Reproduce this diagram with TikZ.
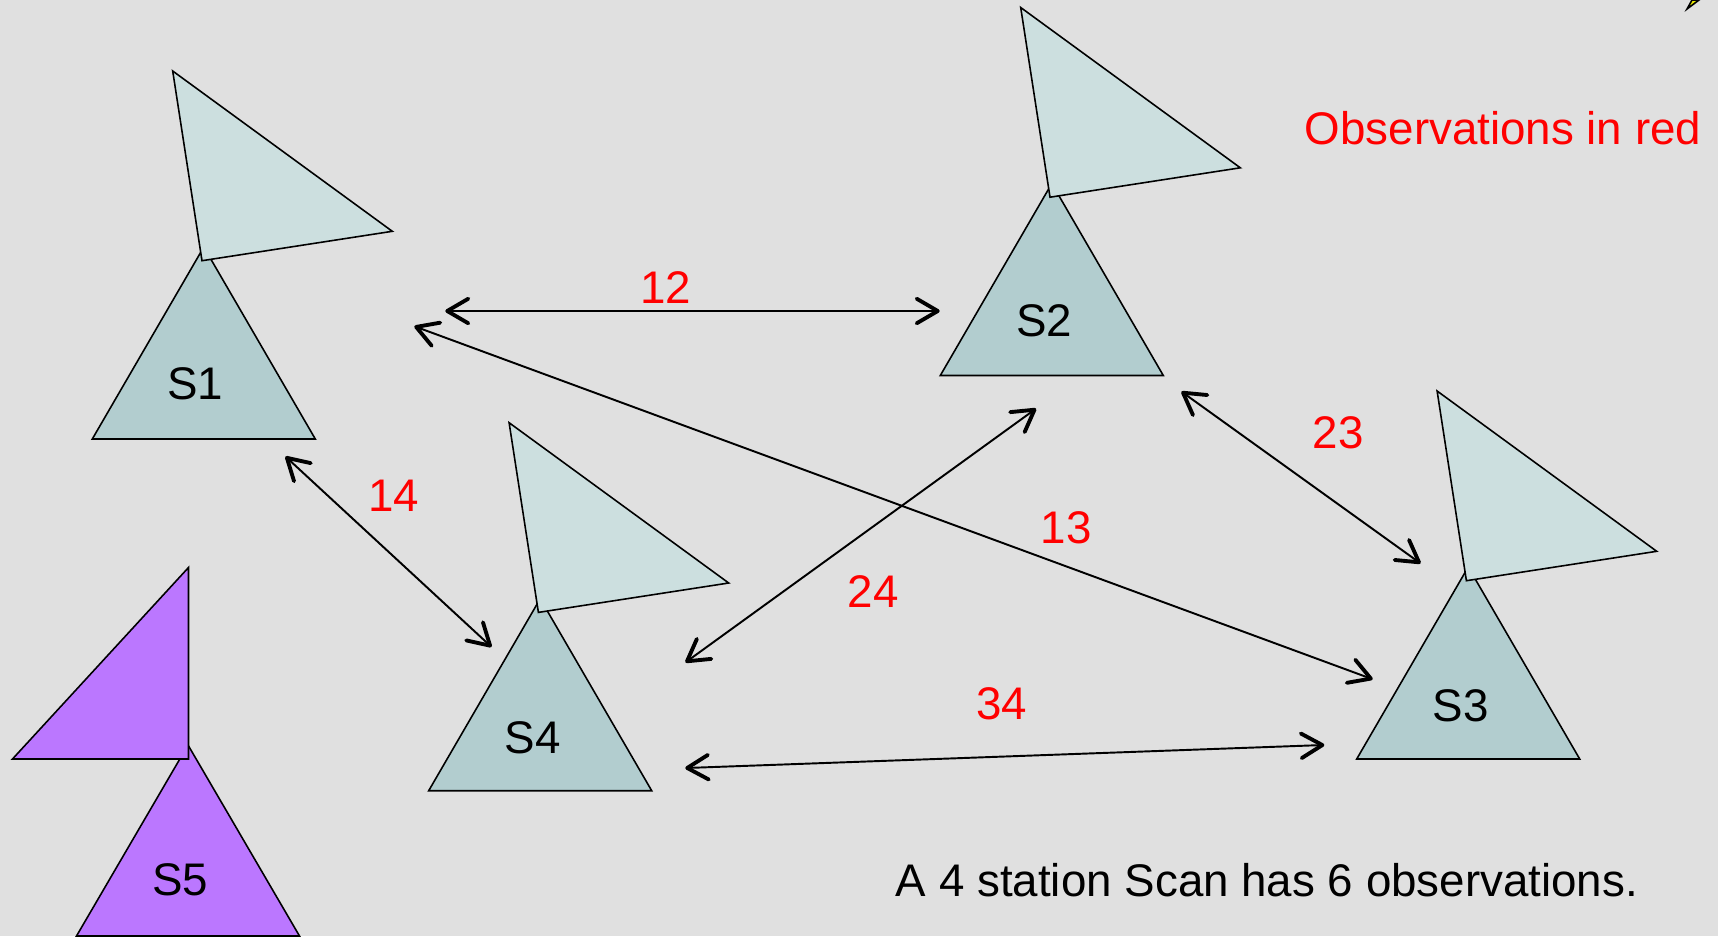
\documentclass[tikz,border=0pt]{standalone}
\usepackage{fontspec}
\setmainfont{Liberation Sans}
\usetikzlibrary{arrows.meta}

\begin{document}
\begin{tikzpicture}[
    x=0.01cm, y=-0.01cm,
    base/.style = {draw, line width=.45pt, line join=miter, fill=stationbase},
    dish/.style = {draw, line width=.45pt, line join=miter, fill=stationdish},
    stationname/.style = {font=\fontsize{13}{15}\selectfont},
    observation/.style = {font=\fontsize{13}{15}\selectfont, text=red},
    baseline/.style = {{Straight Barb[length=6pt,width=7pt,line width=1.1pt,round]}-{Straight Barb[length=6pt,width=7pt,line width=1.1pt,round]}, line width=.55pt, shorten <=-.2pt, shorten >=-.2pt},
    station/.pic = {
      \draw[base] (0,0) -- (111.5,192) -- (-111.5,192) -- cycle;
      \draw[dish] (-31.1,-176) -- (188.5,-15.7) -- (-1.8,13.7) -- cycle;
    }
    ]
    \definecolor{backdrop}{HTML}{E0E0E0}
    \definecolor{stationbase}{HTML}{B2CDCF}
    \definecolor{stationdish}{HTML}{CCDFDF}
    \definecolor{newstation}{HTML}{BB77FF}
    \definecolor{corner}{HTML}{E8E800}

    \useasboundingbox (0,0) rectangle (1718,936);
    \fill[backdrop] (0,0) rectangle (1718,936);
    \draw[fill=corner, line width=.45pt] (1687,9) -- (1692,0) -- (1699,0) -- cycle;

    \pic at (203.8,247) {station};
    \pic at (1051.8,183.5) {station};
    \pic at (1468.2,567) {station};
    \pic at (540.2,598.7) {station};

    \draw[base, fill=newstation] (188,745) -- (299.5,936) -- (76.5,936) -- cycle;
    \draw[dish, fill=newstation] (188.5,567.5) -- (188.5,759) -- (12.5,759) -- cycle;

    \node[stationname] (s1) at (195,383.5) {S1};
    \node[stationname] (s2) at (1044,321) {S2};
    \node[stationname] (s3) at (1460.6,705.6) {S3};
    \node[stationname] (s4) at (532.5,737.4) {S4};
    \node[stationname] (s5) at (180,880) {S5};

    \node[coordinate] (p12) at (446,311) {};
    \node[coordinate] (p21) at (939,311) {};
    \node[coordinate] (p13) at (415,326.5) {};
    \node[coordinate] (p31) at (1372,679) {};
    \node[coordinate] (p14) at (286,457) {};
    \node[coordinate] (p41) at (491,646.5) {};
    \node[coordinate] (p23) at (1182,392) {};
    \node[coordinate] (p32) at (1420,563) {};
    \node[coordinate] (p24) at (1035.5,409) {};
    \node[coordinate] (p42) at (686,662) {};
    \node[coordinate] (p34) at (1323.6,745) {};
    \node[coordinate] (p43) at (686,768) {};

    \draw[baseline] (p12) -- (p21);
    \draw[baseline] (p13) -- (p31);
    \draw[baseline] (p14) -- (p41);
    \draw[baseline] (p23) -- (p32);
    \draw[baseline] (p24) -- (p42);
    \draw[baseline] (p34) -- (p43);

    \node[observation] (o12) at (666,288) {12};
    \node[observation] (o13) at (1066,528) {13};
    \node[observation] (o14) at (394,496) {14};
    \node[observation] (o23) at (1338,433) {23};
    \node[observation] (o24) at (873,592) {24};
    \node[observation] (o34) at (1001.5,703.5) {34};

    \node[observation] (note) at (1503,128) {Observations in red};
    \node[stationname] (scan) at (1267,880) {A 4 station Scan has 6 observations.};
  \end{tikzpicture}
\end{document}
